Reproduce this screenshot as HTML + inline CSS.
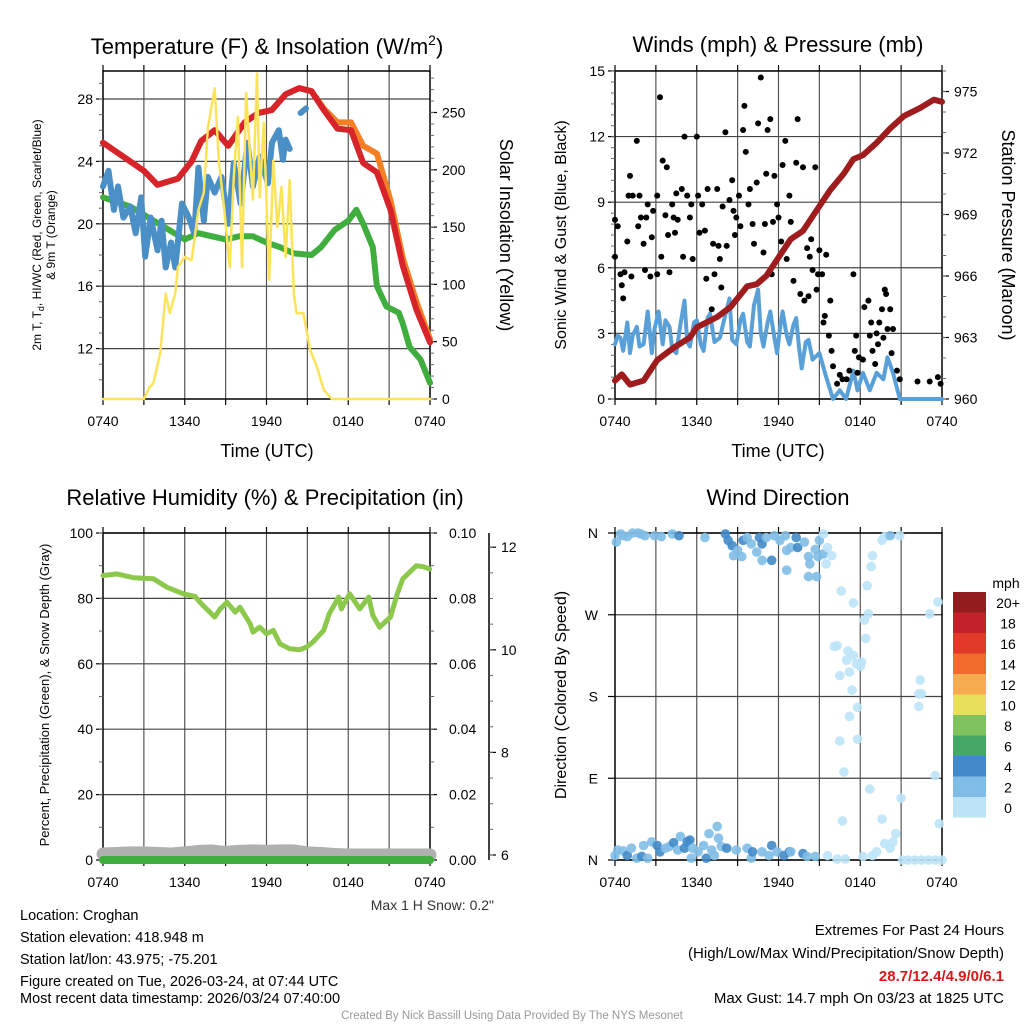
<!DOCTYPE html>
<html><head><meta charset="utf-8"><style>
html,body{margin:0;padding:0;background:#fff;}
svg{display:block;font-family:"Liberation Sans",Arial,sans-serif;}
</style></head><body>
<svg id="chart" width="1024" height="1024" viewBox="0 0 1024 1024" xmlns="http://www.w3.org/2000/svg">
<rect width="1024" height="1024" fill="#fff"/>
<g id="layer"></g>
<text x="267" y="54" font-size="22" text-anchor="middle">Temperature (F) &amp; Insolation (W/m<tspan font-size="14" dy="-9">2</tspan><tspan dy="9">)</tspan></text>
<text x="778" y="52" font-size="22" text-anchor="middle">Winds (mph) &amp; Pressure (mb)</text>
<text x="265" y="505" font-size="22" text-anchor="middle">Relative Humidity (%) &amp; Precipitation (in)</text>
<text x="778" y="505" font-size="22" text-anchor="middle">Wind Direction</text>
<text x="267" y="457" font-size="18" text-anchor="middle">Time (UTC)</text>
<text x="778" y="457" font-size="18" text-anchor="middle">Time (UTC)</text>
<text transform="translate(41,235) rotate(-90)" font-size="12" text-anchor="middle">2m T, T<tspan font-size="9" dy="3">d</tspan><tspan dy="-3">, HI/WC (Red, Green, Scarlet/Blue)</tspan></text>
<text transform="translate(55,235) rotate(-90)" font-size="12" text-anchor="middle">&amp; 9m T (Orange)</text>
<text transform="translate(500,235) rotate(90)" font-size="18" text-anchor="middle">Solar Insolation (Yellow)</text>
<text transform="translate(566,235) rotate(-90)" font-size="16" text-anchor="middle">Sonic Wind &amp; Gust (Blue, Black)</text>
<text transform="translate(1002,235) rotate(90)" font-size="18" text-anchor="middle">Station Pressure (Maroon)</text>
<text transform="translate(49,695) rotate(-90)" font-size="13" text-anchor="middle">Percent, Precipitation (Green), &amp; Snow Depth (Gray)</text>
<text transform="translate(566,695) rotate(-90)" font-size="16" text-anchor="middle">Direction (Colored By Speed)</text>
<text x="494" y="910" font-size="14" text-anchor="end" fill="#333">Max 1 H Snow: 0.2"</text>
<g font-size="14.5">
<text x="20" y="920">Location: Croghan</text>
<text x="20" y="942">Station elevation: 418.948 m</text>
<text x="20" y="964">Station lat/lon: 43.975; -75.201</text>
<text x="20" y="986">Figure created on Tue, 2026-03-24, at 07:44 UTC</text>
<text x="20" y="1003">Most recent data timestamp: 2026/03/24 07:40:00</text>
</g>
<g font-size="15" text-anchor="end">
<text x="1004" y="935">Extremes For Past 24 Hours</text>
<text x="1004" y="958">(High/Low/Max Wind/Precipitation/Snow Depth)</text>
<text x="1004" y="981" fill="#d7191c" font-weight="bold">28.7/12.4/4.9/0/6.1</text>
<text x="1004" y="1003">Max Gust: 14.7 mph On 03/23 at 1825 UTC</text>
</g>
<text x="512" y="1019" font-size="11.5" fill="#999" text-anchor="middle">Created By Nick Bassill Using Data Provided By The NYS Mesonet</text>
</svg>
<script>
const tickLabels = ["0740","1340","1940","0140","0740"];
const tempTicks = [12,16,20,24,28];
const solarTicks = [0,50,100,150,200,250];
const windTicks = [0,3,6,9,12,15];
const presTicks = [960,963,966,969,972,975];
const rhTicks = [0,20,40,60,80,100];
const precipTicks = ["0.00","0.02","0.04","0.06","0.08","0.10"];
const snowTicks = [6,8,10,12];
const dirTicks = ["N","E","S","W","N"];
const speedBins = ["0","2","4","6","8","10","12","14","16","18","20+"];

const tHours = [0,3,4,5.5,6.5,7.2,8.2,9.2,10.4,11.4,12.4,13.4,14.4,15.3,16.2,17.2,18.2,19.1,20.1,21.1,22,23,24];
const temp2m = [25.2,23.4,22.5,22.9,24.0,25.3,26.0,25.0,26.5,27.1,27.3,28.3,28.7,28.5,27.3,26.1,26.0,23.9,23.3,20.9,17.3,14.5,12.4];
const temp9m = [25.2,23.4,22.5,22.9,24.0,25.3,26.0,25.0,26.5,27.1,27.3,28.3,28.7,28.5,27.4,26.5,26.5,25.0,24.5,21.5,17.8,15.0,12.6];
const tdHours = [0,2,6,7,8,9,10,11,12,13,14,15.3,16,17,18,18.6,19.1,19.8,20.1,20.8,21.7,22,22.5,23.3,24];
const dewpoint = [21.7,21.1,19.0,19.4,19.2,19.0,19.2,19.2,18.8,18.5,18.1,18.0,18.5,19.6,20.2,20.9,20.0,18.5,16.0,14.7,14.3,13.6,12.1,11.3,9.8];
const hiHours = [0,0.4,0.8,1.1,1.5,2,2.4,2.8,3.1,3.5,4,4.3,4.6,5,5.3,5.8,6.3,6.7,7.0,7.4,7.7,8.2,8.7,9.2,9.6,10.1,10.6,11.0,11.5,12.1,12.4,12.9,13.2,13.4,13.7];
const heatIndex = [22.4,23.4,20.9,22.4,20.4,21.1,19.4,21.7,17.9,20.4,18.3,20.2,17.2,18.8,17.2,21.3,20.4,19.4,23.6,20.2,23.0,22.0,23.0,20.0,23.9,21.3,25.2,22.4,24.3,22.6,25.2,26.0,24.1,25.4,24.8];
const hiHours2 = [14.5,14.9];
const heatIndex2 = [27.1,27.4];
const solHours = [0,3,3.4,3.7,4.2,4.6,4.9,5.3,5.5,6.0,6.5,7.0,7.4,7.7,8.2,8.5,8.9,9.3,9.6,9.9,10.2,10.5,11.0,11.3,11.5,11.8,12.2,12.5,12.8,13.1,13.4,13.7,14.0,14.2,14.7,15.2,15.7,16.2,16.8,24];
const solar = [0,0,10,14,40,92,75,92,115,124,121,165,180,237,271,208,165,115,194,246,115,267,174,284,176,241,104,208,150,185,124,191,92,75,75,43,28,8,0,0];
const pHours = [0,0.5,1.1,2.1,3.1,4.3,5.5,6.0,7.5,8.5,9.7,10.4,11.1,11.9,12.9,13.8,14.8,15.8,16.8,17.5,18.2,19.2,20.2,21.2,22.4,23.4,24];
const pressure = [960.9,961.2,960.7,960.9,961.9,962.5,963.0,963.5,964.0,964.5,965.5,965.6,966.0,966.8,967.8,968.2,969.2,970.2,971.0,971.7,971.9,972.5,973.2,973.8,974.2,974.6,974.5];
const wHours = [0,0.2,0.4,0.6,0.9,1.1,1.3,1.6,1.8,2.1,2.4,2.7,2.9,3.2,3.5,3.7,4.0,4.2,4.5,4.8,5.1,5.3,5.5,5.8,6.0,6.3,6.5,6.8,6.97,7.3,7.7,8.0,8.4,8.6,8.9,9.2,9.4,9.7,9.9,10.2,10.5,10.7,10.9,11.2,11.4,11.7,11.9,12.1,12.3,12.6,12.8,13.1,13.3,13.5,13.7,14.0,14.2,14.5,15.0,15.5,16.0,16.5,16.96,17.5,17.8,18.2,18.7,19.2,19.7,20.0,20.4,20.9,24];
const windSpd = [2.5,2.9,2.8,2.2,3.5,2.1,2.9,3.3,2.4,2.5,4.0,2.1,3.2,4.0,2.5,3.6,3.3,2.3,2.1,3.4,4.5,2.6,2.4,3.5,3.6,2.5,2.2,3.7,3.9,2.6,2.8,3.6,4.6,2.7,2.5,3.6,3.9,2.6,2.4,4.3,5.0,3.0,2.4,3.5,4.0,2.8,2.1,3.2,4.0,2.9,2.5,3.4,3.7,2.4,1.4,2.6,2.7,1.8,2.1,1.0,0.0,0.4,0.0,1.3,0.4,1.2,0.4,1.2,0.9,1.9,1.2,0.0,0.0];
const gustHours = [0,0,0.2,0.4,0.5,0.6,0.7,0.9,1.0,1.1,1.2,1.3,1.6,1.7,1.8,1.9,2.1,2.2,2.3,2.4,2.6,2.7,2.8,3.1,3.1,3.3,3.4,3.5,3.7,3.8,3.9,4.0,4.2,4.3,4.4,4.5,4.6,4.9,5.0,5.1,5.3,5.5,5.6,5.7,6.0,6.1,6.2,6.4,6.6,6.7,6.8,7.1,7.2,7.3,7.5,7.6,7.7,7.8,7.9,8.1,8.2,8.4,8.6,8.7,8.8,8.9,9.1,9.2,9.4,9.5,9.6,9.8,9.9,10.1,10.2,10.4,10.5,10.7,10.9,11.0,11.1,11.2,11.4,11.5,11.6,11.7,11.9,12.0,12.2,12.3,12.5,12.6,12.8,12.9,13.1,13.3,13.4,13.6,13.8,13.9,14.1,14.2,14.3,14.4,14.5,14.7,14.8,14.9,15.0,15.2,15.3,15.4,15.5,15.7,15.8,15.9,16.0,16.3,16.5,16.7,17.0,17.2,17.5,17.6,17.7,17.8,17.9,18.2,18.3,18.6,18.7,18.8,18.9,19.1,19.2,19.3,19.4,19.6,19.7,19.8,19.9,20.0,20.2,20.3,20.4,20.7,20.9,22.2,23.1,23.7,23.9];
const gustSpd = [6.5,8.2,7.9,5.7,5.2,4.6,5.8,7.2,9.3,10.2,5.6,9.3,11.8,7.9,9.3,8.3,7.1,5.9,8.3,8.9,5.6,7.4,8.6,5.7,9.3,13.8,6.5,10.9,8.4,10.6,7.5,5.8,8.9,8.3,7.6,9.4,8.2,9.6,6.5,12.0,9.3,8.3,8.9,6.4,12.0,9.3,7.6,8.9,7.7,5.5,9.6,4.1,7.1,5.7,9.6,7.0,6.4,5.1,8.8,12.2,7.0,9.1,10.0,8.6,7.5,8.3,9.3,7.9,12.3,13.4,11.3,8.9,9.6,8.0,7.1,9.9,12.6,14.7,6.7,8.0,10.3,12.3,12.8,5.7,8.1,10.2,8.9,8.3,7.2,10.7,11.8,6.4,9.3,8.1,5.4,10.8,12.8,4.8,10.6,4.5,6.9,4.7,6.5,7.3,5.9,10.6,5.0,5.7,6.8,5.7,3.5,3.8,6.6,2.9,4.5,2.2,1.5,0.7,1.1,0.9,0.9,1.3,5.7,2.2,2.9,1.2,1.9,1.8,4.2,4.5,2.9,3.5,2.2,1.6,3.0,2.5,3.5,4.1,2.8,5.0,4.8,3.2,4.1,2.1,3.2,1.3,0.9,0.8,0.8,1.0,0.7];
const rhHours = [0,1.02,2.25,3.7,4.7,5.9,6.75,7.24,8.2,8.6,9.1,9.7,10.05,10.8,11.0,11.5,12.0,12.5,12.99,13.7,14.45,14.94,15.4,16.2,16.6,17.3,17.5,18.1,18.85,19.5,19.8,20.3,21.1,21.6,22.0,23.0,23.5,23.98];
const rh = [87,87.5,86.3,86,83.4,81.4,80.6,78.3,74.3,76.8,78.8,75.8,77.3,72.2,69.7,71.2,69.2,70.2,66.1,64.6,64.3,65.1,66.6,70.2,75.3,80.4,76.8,81.4,76.8,80.4,74.8,71.2,74.3,81.4,86,90,89.7,89];
const snowHours = [0,2,3,4,5,6,7,8,9,10,11,12,13,14,15,16,17,18,20,22,24];
const snowDepth = [6.02,6.04,6.04,6.03,6.02,6.04,6.07,6.08,6.05,6.07,6.08,6.07,6.08,6.08,6.04,6.03,6.01,6.0,6.0,6.0,6.0];
const precipHours = [0,24];
const precip = [0,0];
const dirHours = [0.1,0.4,0.6,0.9,1.3,1.7,1.9,2.2,2.9,3.4,4.2,4.7,6.6,8.1,8.3,8.6,8.7,9.0,9.3,9.4,9.7,10.0,10.4,10.6,10.8,10.8,11.1,11.5,11.7,12.1,12.5,12.6,12.6,12.9,13.3,13.4,13.9,14.2,14.3,14.2,14.7,14.8,14.9,15.0,15.3,15.3,15.6,15.5,15.9,16.6,17.5,18.5,18.8,18.9,18.6,18.3,18.4,16.1,16.3,17.1,17.0,17.5,17.7,18.1,18.0,17.2,16.5,17.4,17.8,17.2,16.5,17.8,16.8,18.7,16.7,19.6,21.0,22.4,22.3,22.5,22.3,23.1,23.7,23.5,23.8,19.6,19.8,20.2,20.9,20.6,20.4,19.8,19.2,18.9,20.2,15.6,16.3,16.9,18.2,21.1,21.5,22,22.5,23,23.5,24,0,0.2,0.6,0.9,1.2,1.6,1.96,2.1,2.4,2.7,3.1,3.3,3.7,4.0,4.3,4.6,4.8,5.1,5.3,5.5,5.6,5.7,6.1,6.5,6.7,6.9,7.1,7.5,7.6,7.3,7.8,8.2,8.9,9.7,10.0,10.1,10.8,11.3,11.5,11.9,12.4,12.8,12.9,13.8,14.1,14.7];
const dirDeg = [350,359,357,356,360,360,359,357,357,356,359,357,355,359,352,346,335,341,334,352,355,348,339,355,348,330,355,330,357,352,357,341,319,344,355,344,350,334,326,312,342,312,334,352,359,337,344,326,335,296,283,302,323,335,271,264,244,235,236,230,220,225,216,218,213,207,203,187,168,158,131,133,97,78,43,45,68,198,183,183,169,271,284,93,40,352,356,357,357,29,20,18,9,5,13,5,1,1,4,0,0,0,0,0,0,0,5,11,10,5,13,2,4,16,2,20,16,9,13,15,19,11,26,13,20,22,2,13,9,16,2,29,11,37,24,5,15,13,11,13,2,9,9,5,16,9,5,9,9,7,4,4];
const dirSpd = [2.5,2.5,2.5,2.5,2.5,2.5,2.5,2.5,2.5,2.5,2.5,4.5,2.5,4.5,4.5,4.5,2.5,2.5,2.5,4.5,2.5,2.5,2.5,4.5,4.5,2.5,2.5,4.5,2.5,2.5,2.5,2.5,2.5,2.5,4.5,4.5,2.5,2.5,2.5,2.5,2.5,2.5,2.5,2.5,1,2.5,1,1,1,1,1,1,1,1,1,1,1,1,1,1,1,1,1,1,1,1,1,1,1,1,1,1,1,1,1,1,1,1,1,1,1,1,1,1,1,1,1,2.5,1,1,1,1,1,1,1,1,1,1,1,1,1,1,1,1,1,1,2.5,2.5,2.5,4.5,2.5,2.5,4.5,2.5,2.5,2.5,4.5,4.5,2.5,2.5,4.5,2.5,2.5,4.5,4.5,4.5,2.5,2.5,2.5,2.5,4.5,2.5,2.5,2.5,2.5,2.5,2.5,4.5,2.5,2.5,2.5,4.5,2.5,2.5,4.5,2.5,4.5,4.5,2.5,4.5,2.5,2.5,2.5];
const binColors = ["#bde3f7","#80bde6","#4189c8","#45a866","#80c35e","#e8e05c","#f7ab4f","#f06b2c","#e13a2b","#c2232b","#931c1f"];

const W = 327/24;
const xL = h => 103 + h*W;
const xR = h => 615 + h*W;
const yT = t => 99 + (28-t)*15.6;
const yS = v => 399 - v*57.3/50;
const yW = m => 399 - m*21.87;
const yP = p => 399 - (p-960)*20.5;
const yRH = r => 860 - r*3.27;
const yPr = v => 860 - v*3270;
const ySn = s => 855 - (s-6)*51.3;
const yD = d => 860 - d*327/360;
const spdColor = s => binColors[Math.min(10, Math.floor(s/2))];

const NS = "http://www.w3.org/2000/svg";
const layer = document.getElementById("layer");
function mk(tag, attrs, parent){
  const el = document.createElementNS(NS, tag);
  for (const k in attrs) el.setAttribute(k, attrs[k]);
  (parent||layer).appendChild(el);
  return el;
}
function pts(xs, ys, fx, fy){ return xs.map((h,i)=>fx(h).toFixed(1)+","+fy(ys[i]).toFixed(1)).join(" "); }

function frame(x0, y0, x1, y1, name, hGrid, bottomLabels){
  const g = mk("g", {});
  
  
  for (let i=1;i<8;i++){
    const x = x0 + i*(x1-x0)/8;
    const l = mk("line",{x1:x,y1:y0,x2:x,y2:y1,stroke:"#555","stroke-width":1.2}, g);
    
    
  }
  hGrid.forEach(y=>{
    const l = mk("line",{x1:x0,y1:y,x2:x1,y2:y,stroke:"#444","stroke-width":1.2}, g);
    
    
  });
  const b = mk("rect",{x:x0,y:y0,width:x1-x0,height:y1-y0,fill:"none",stroke:"#000","stroke-width":1.5}, g);
  
  
  for (let i=0;i<=8;i++){
    const x = x0 + i*(x1-x0)/8;
    const t = mk("line",{x1:x,y1:y1,x2:x,y2:y1+6,stroke:"#000","stroke-width":1.2}, g);
    
    
    const t2 = mk("line",{x1:x,y1:y0,x2:x,y2:y0-6,stroke:"#000","stroke-width":1.2}, g);
    
    
  }
  if (bottomLabels){
    tickLabels.forEach((lab,i)=>{
      const tx = mk("text",{x:x0+i*(x1-x0)/4,y:y1+27,"font-size":14,"text-anchor":"middle"}, g);
      tx.textContent = lab;
      
      
    });
  }
  return g;
}
function yAxis(vals, fy, x, side, labelFn, name){
  vals.forEach(v=>{
    const y = fy(v);
    const dx = side==="left" ? -7 : 7;
    const t = mk("line",{x1:x,y1:y,x2:x+dx,y2:y,stroke:"#000","stroke-width":1.2});
    
    
    const tx = mk("text",{x: side==="left" ? x-10 : x+12, y:y+5, "font-size":14, "text-anchor": side==="left"?"end":"start"});
    tx.textContent = labelFn(v);
    
    
  });
}
function minor(y0, y1, step, x, side, name){
  for (let y=y0; y>=y1-0.1; y-=step){
    const dx = side==="left" ? -4 : 4;
    const t = mk("line",{x1:x,y1:y,x2:x+dx,y2:y,stroke:"#666","stroke-width":1});
    
    
  }
}

frame(103,71,430,399,"temperature-panel",tempTicks.map(yT),true);
yAxis(tempTicks,yT,103,"left",v=>v,"temperature-y");
minor(yT(10),71,15.6,103,"left","temperature-y");
yAxis(solarTicks,yS,430,"right",v=>v,"insolation-y");
minor(399,71,11.46,430,"right","insolation-y");
frame(615,71,942,399,"winds-panel",windTicks.map(yW),true);
yAxis(windTicks,yW,615,"left",v=>v,"wind-y");
minor(399,71,10.93,615,"left","wind-y");
yAxis(presTicks,yP,942,"right",v=>v,"pressure-y");
minor(399,71,20.5,942,"right","pressure-y");
frame(103,533,430,860,"humidity-panel",rhTicks.map(yRH),true);
yAxis(rhTicks,yRH,103,"left",v=>v,"humidity-y");
minor(860,533,32.7,103,"left","humidity-y");
precipTicks.forEach((lab,i)=>{
  const y = yPr(i*0.02);
  const t = mk("line",{x1:430,y1:y,x2:437,y2:y,stroke:"#000","stroke-width":1.2});
  
  
  const tx = mk("text",{x:449,y:y+5,"font-size":14});
  tx.textContent = lab;
  
  
});
minor(860,533,32.7,430,"right","precip-y");
const snowAxis = mk("line",{x1:489,y1:533,x2:489,y2:860,stroke:"#000","stroke-width":1.5});


yAxis(snowTicks,ySn,489,"right",v=>v,"snow-y");
minor(ySn(6),533,25.65,489,"right","snow-y");
frame(615,533,942,860,"direction-panel",dirTicks.map((d,i)=>yD(i*90)),true);
dirTicks.forEach((lab,i)=>{
  const y = yD(i*90);
  const t = mk("line",{x1:615,y1:y,x2:608,y2:y,stroke:"#000","stroke-width":1.2});
  
  
  const tx = mk("text",{x:598,y:y+5,"font-size":14,"text-anchor":"end"});
  tx.textContent = lab;
  
  
});

function line(xs, ys, fx, fy, color, w, name){
  const p = mk("polyline",{points:pts(xs,ys,fx,fy),fill:"none",stroke:color,"stroke-width":w,"stroke-linejoin":"round","stroke-linecap":"round"});
  
  
  return p;
}
line(tdHours,dewpoint,xL,yT,"#3fae3f",6,"dewpoint-line");
line(hiHours,heatIndex,xL,yT,"#4a8fc6",6,"windchill-line");
line(hiHours2,heatIndex2,xL,yT,"#4a8fc6",6,"windchill-line-late");
line(tHours,temp9m,xL,yT,"#f47f24",6,"temp-9m-line");
line(tHours,temp2m,xL,yT,"#d7232a",6,"temp-2m-line");
line(solHours,solar,xL,yS,"#fde35a",2.5,"solar-insolation-line");

line(wHours,windSpd,xR,yW,"#5aa0d8",4,"sonic-wind-line");
gustHours.forEach((h,i)=>{
  const c = mk("circle",{cx:xR(h).toFixed(1),cy:yW(gustSpd[i]).toFixed(1),r:3,fill:"#000"});
  
  
});
line(pHours,pressure,xR,yP,"#9e1b1e",6,"pressure-line");

line(snowHours,snowDepth,xL,ySn,"#b0b0b0",13,"snow-depth-line");
line(precipHours,precip,xL,yPr,"#3fae3f",8,"precipitation-line");
line(rhHours,rh,xL,yRH,"#8cc84b",5,"humidity-line");

dirHours.forEach((h,i)=>{
  const c = mk("circle",{cx:xR(h).toFixed(1),cy:yD(dirDeg[i]).toFixed(1),r:4.8,fill:spdColor(dirSpd[i]),opacity:0.9});
  
  
});

const cbTitle = mk("text",{x:1006,y:588,"font-size":14,"text-anchor":"middle"});
cbTitle.textContent = "mph";


speedBins.forEach((lab,i)=>{
  const y = 797 - i*20.5;
  const r = mk("rect",{x:953,y:y,width:33,height:20.5,fill:binColors[i]});
  
  
  const tx = mk("text",{x:1008,y:y+16,"font-size":14,"text-anchor":"middle"});
  tx.textContent = lab;
  
  
});
</script>
</body></html>
